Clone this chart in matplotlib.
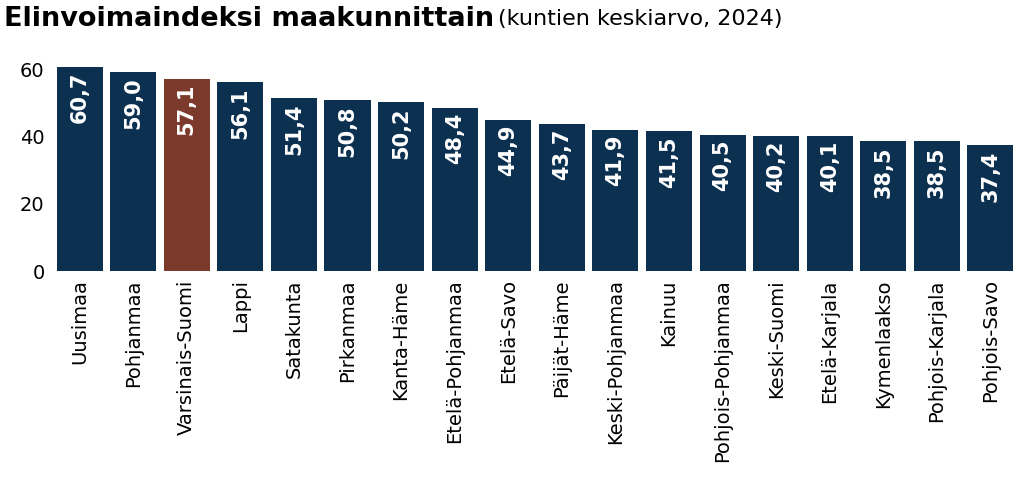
import matplotlib.pyplot as plt

regions = ["Uusimaa", "Pohjanmaa", "Varsinais-Suomi", "Lappi", "Satakunta", "Pirkanmaa",
           "Kanta-Häme", "Etelä-Pohjanmaa", "Etelä-Savo", "Päijät-Häme", "Keski-Pohjanmaa",
           "Kainuu", "Pohjois-Pohjanmaa", "Keski-Suomi", "Etelä-Karjala", "Kymenlaakso",
           "Pohjois-Karjala", "Pohjois-Savo"]
values = [60.7, 59.0, 57.1, 56.1, 51.4, 50.8, 50.2, 48.4, 44.9, 43.7, 41.9,
          41.5, 40.5, 40.2, 40.1, 38.5, 38.5, 37.4]
highlight = "Varsinais-Suomi"

navy = "#0b3050"
red = "#7b3a2c"
colors = [red if r == highlight else navy for r in regions]

fig = plt.figure(figsize=(10.24, 4.97), dpi=100)
ax = fig.add_axes([0.049, 0.4547, 0.947, 0.42])

x = range(len(regions))
bars = ax.bar(x, values, width=0.86, color=colors)
for b, v in zip(bars, values):
    ax.text(b.get_x() + b.get_width() / 2, v - 1.5, f"{v:.1f}".replace(".", ","),
            rotation=90, ha="center", va="top", color="white",
            fontsize=15, fontweight="bold")

ax.set_xlim(-0.55, len(regions) - 0.45)
ax.set_ylim(0, 62)
ax.set_yticks([0, 20, 40, 60])
ax.set_xticks(list(x))
ax.set_xticklabels(regions, rotation=90, fontsize=14)
ax.tick_params(axis="y", labelsize=14, length=0, pad=4)
ax.tick_params(axis="x", length=0, pad=6)
for s in ax.spines.values():
    s.set_visible(False)

fig.text(0.004, 0.962, "Elinvoimaindeksi maakunnittain", fontsize=19.5, fontweight="bold",
         va="center", ha="left")
fig.text(0.486, 0.962, "(kuntien keskiarvo, 2024)", fontsize=16, va="center", ha="left")

fig.savefig("out.png", dpi=100)
